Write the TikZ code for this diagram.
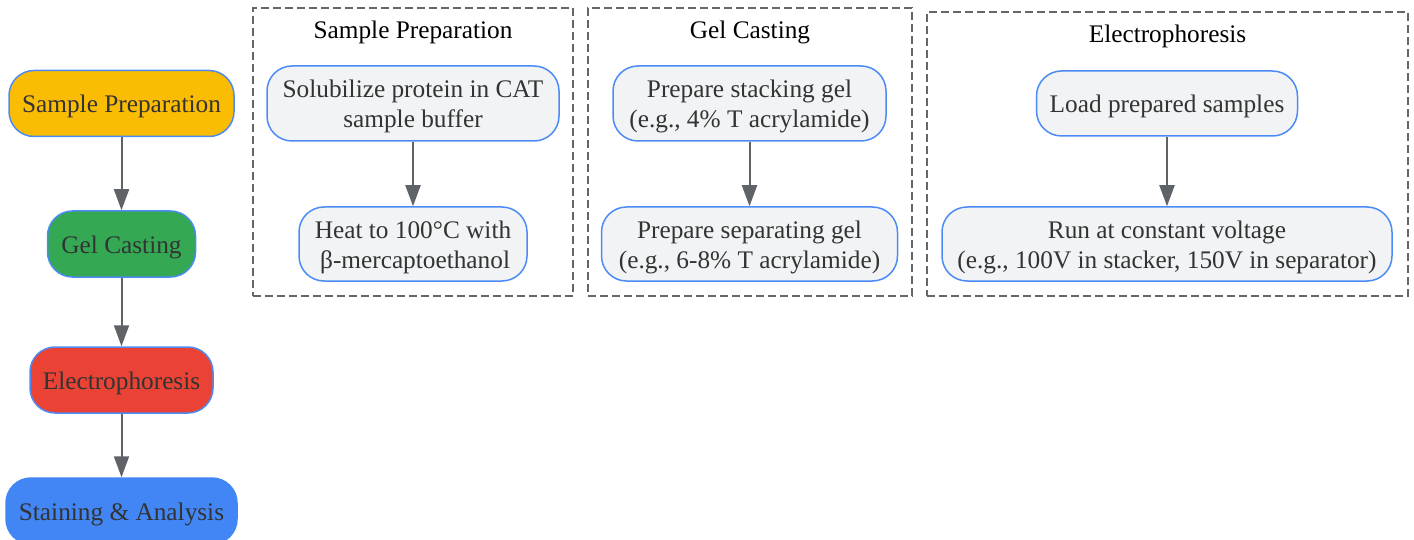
\documentclass[tikz,border=0pt]{standalone}
\usepackage{fontspec}
\setmainfont{Liberation Serif}
\usetikzlibrary{arrows.meta}
\definecolor{stageyellow}{HTML}{FBBC04}
\definecolor{stagegreen}{HTML}{34A853}
\definecolor{stagered}{HTML}{EA4335}
\definecolor{stageblue}{HTML}{4285F4}
\definecolor{edgeblue}{HTML}{4C8BF5}
\definecolor{taskfill}{HTML}{F1F3F4}
\definecolor{textgray}{HTML}{333333}
\definecolor{arrowgray}{HTML}{5F6368}
\definecolor{groupgray}{HTML}{666666}
\tikzset{
  stage/.style={draw=edgeblue, line width=1.5pt, rounded corners=25pt, text=textgray,
    text height=24.5pt, text depth=5.5pt, minimum height=66pt, inner sep=0pt},
  task/.style={stage, fill=taskfill, align=center, minimum height=75pt},
  twoline/.style={text height=54.5pt, text depth=5.5pt},
  group/.style={draw=groupgray, line width=1.5pt, dash pattern=on 8pt off 4pt, inner sep=0pt},
  flow/.style={draw=arrowgray, line width=2pt, -{Triangle[length=21pt,width=15pt]}}
}
\begin{document}
\begin{tikzpicture}[x=1pt,y=-1pt,font=\fontsize{25.3}{30}\selectfont]
      \useasboundingbox (0,0) rectangle (1414,540);
      \node [stage, fill=stageyellow, minimum width=225pt] (prep) at (121.5,103.5) {Sample Preparation};
      \node [stage, fill=stagegreen, minimum width=148pt] (cast) at (121.5,244) {Gel Casting};
      \node [stage, fill=stagered, minimum width=183pt] (elec) at (121.5,380) {Electrophoresis};
      \node [stage, fill=stageblue, draw=stageblue, minimum width=231pt] (stain) at (121.5,511) {Staining \& Analysis};
      \draw [flow] (prep) -- (cast);
      \draw [flow] (cast) -- (elec);
      \draw [flow] (elec) -- (stain);

      \node [group, minimum width=320pt, minimum height=288pt] (prepgroup) at (413,152) {};
      \node [anchor=base] (preptitle) at (413,39) {Sample Preparation};
      \node [task, twoline, minimum width=292pt] (solub) at (413,103.5) {Solubilize protein in CAT\\sample buffer};
      \node [task, twoline, minimum width=228pt, minimum height=74pt] (heat) at (413,244) {Heat to 100°C with\\$\,$β-mercaptoethanol};
      \draw [flow] (solub) -- (heat);

      \node [group, minimum width=324pt, minimum height=288pt] (castgroup) at (750,152) {};
      \node [anchor=base] (casttitle) at (750,39) {Gel Casting};
      \node [task, twoline, minimum width=273pt] (stack) at (749.5,103.5) {Prepare stacking gel\\(e.g., 4\% T acrylamide)};
      \node [task, twoline, minimum width=296pt, minimum height=74pt] (sep) at (749.5,244) {Prepare separating gel\\(e.g., 6-8\% T acrylamide)};
      \draw [flow] (stack) -- (sep);

      \node [group, minimum width=481pt, minimum height=284pt] (elecgroup) at (1167.5,154) {};
      \node [anchor=base] (electitle) at (1167.5,43) {Electrophoresis};
      \node [task, minimum width=261pt, minimum height=65pt] (load) at (1167,103.5) {Load prepared samples};
      \node [task, twoline, minimum width=450pt, minimum height=74pt] (run) at (1167,244) {Run at constant voltage\\(e.g., 100V in stacker, 150V in separator)};
      \draw [flow] (load) -- (run);
    \end{tikzpicture}
\end{document}
